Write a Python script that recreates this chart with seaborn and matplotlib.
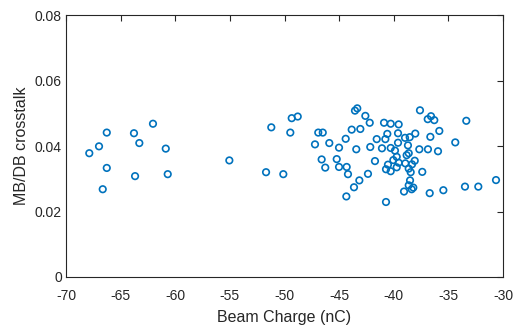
import numpy as np
import pandas as pd
import matplotlib
matplotlib.use('Agg')
import matplotlib.pyplot as plt
import seaborn as sns

# beam charge (nC) and MB/DB crosstalk
charge = [
    -67.87, -66.98, -66.27, -66.27, -66.64, -63.78, -63.29, -63.68, -62.04, -60.87, -60.69,
    -55.05, -51.69, -50.11, -51.21, -49.47, -49.34, -48.79,
    -43.55, -43.34, -42.60, -42.20, -40.89, -40.28, -39.55, -43.85, -43.06, -46.91, -46.50,
    -40.59, -39.61, -44.40, -41.56, -40.77, -47.21, -45.90, -45.01, -43.43, -42.15, -41.08,
    -40.28, -39.61, -39.89, -46.60, -45.22, -41.72, -46.27, -45.01, -44.31, -44.19, -42.36,
    -43.15, -43.64, -44.34, -40.71, -40.53, -40.28, -40.04, -39.73, -39.55, -39.73, -40.71,
    -37.60, -36.89, -36.59, -36.29, -33.36, -35.83, -36.65, -38.03, -38.54, -38.97, -38.70,
    -37.66, -36.87, -35.95, -34.37, -38.63, -38.82, -38.08, -38.94, -38.33, -38.63, -38.45,
    -37.39, -38.51, -38.63, -38.21, -38.36, -39.06, -36.71, -35.46, -33.48, -32.26, -30.64,
]
crosstalk = [
    0.0378, 0.0399, 0.0441, 0.0333, 0.0268, 0.0439, 0.0409, 0.0308, 0.0468, 0.0392, 0.0314,
    0.0356, 0.0320, 0.0314, 0.0457, 0.0441, 0.0485, 0.0490,
    0.0508, 0.0515, 0.0492, 0.0471, 0.0471, 0.0468, 0.0466, 0.0450, 0.0452, 0.0441, 0.0441,
    0.0437, 0.0439, 0.0422, 0.0421, 0.0421, 0.0405, 0.0409, 0.0395, 0.0390, 0.0397, 0.0393,
    0.0394, 0.0410, 0.0386, 0.0359, 0.0360, 0.0354, 0.0334, 0.0336, 0.0336, 0.0314, 0.0315,
    0.0295, 0.0274, 0.0246, 0.0229, 0.0343, 0.0323, 0.0357, 0.0367, 0.0349, 0.0335, 0.0329,
    0.0509, 0.0482, 0.0491, 0.0479, 0.0477, 0.0446, 0.0428, 0.0438, 0.0427, 0.0425, 0.0402,
    0.0390, 0.0390, 0.0384, 0.0411, 0.0378, 0.0372, 0.0355, 0.0347, 0.0344, 0.0331, 0.0320,
    0.0321, 0.0295, 0.0280, 0.0273, 0.0268, 0.0261, 0.0256, 0.0265, 0.0276, 0.0276, 0.0296,
]

x_ticks = [-70, -65, -60, -55, -50, -45, -40, -35, -30]
y_ticks = [0, 0.02, 0.04, 0.06, 0.08]

df = pd.DataFrame({'charge': charge, 'crosstalk': crosstalk})

sns.set_style('white')
plt.rcParams['font.family'] = ['Liberation Sans', 'DejaVu Sans']

fig = plt.figure(figsize=(5.13, 3.25), dpi=100)
ax = fig.add_axes([0.1287, 0.1477, 0.8518, 0.8061])

sns.scatterplot(data=df, x='charge', y='crosstalk', ax=ax, marker='o', s=22,
                facecolor='none', edgecolor='#0072BD', linewidth=1.2)

ax.set_xlim(-70, -30)
ax.set_ylim(0, 0.08)
ax.set_xticks(x_ticks)
ax.set_xticklabels([str(t) for t in x_ticks])
ax.set_yticks(y_ticks)
ax.set_yticklabels(['0', '0.02', '0.04', '0.06', '0.08'])
ax.tick_params(direction='in', length=4, width=0.8, colors='#262626',
               top=True, right=True, labelsize=10, pad=3)
ax.tick_params(axis='x', pad=9)
for sp in ax.spines.values():
    sp.set_color('#262626')
    sp.set_linewidth(0.8)

ax.set_xlabel('Beam Charge (nC)', fontsize=11.5, color='#262626', labelpad=5)
ax.set_ylabel('MB/DB crosstalk', fontsize=11.5, color='#262626', labelpad=4)

fig.savefig('out.png', dpi=100)
